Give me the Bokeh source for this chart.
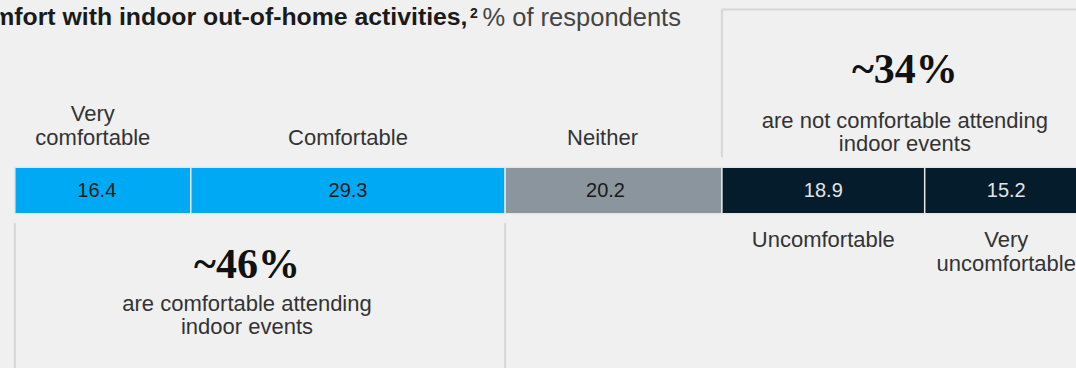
from bokeh.plotting import figure
from bokeh.models import Range1d
from bokeh.embed import file_html
from bokeh.resources import INLINE
from bokeh.core.properties import value

# ---------------- data ----------------
categories = ["Very comfortable", "Comfortable", "Neither", "Uncomfortable", "Very uncomfortable"]
values = [16.4, 29.3, 20.2, 18.9, 15.2]
label_lines = [["Very", "comfortable"], ["Comfortable"], ["Neither"], ["Uncomfortable"], ["Very", "uncomfortable"]]
label_side = ["above", "above", "above", "below", "below"]
group_pcts = ["~46%", "~34%"]
group_texts = [["are comfortable attending", "indoor events"],
               ["are not comfortable attending", "indoor events"]]
group_members = [[0, 1], [3, 4]]
group_side = ["below", "above"]
title_bold = "Comfort with indoor out-of-home activities,"
title_sup = "2"
title_rest = "% of respondents"

# ---------------- styles ----------------
seg_colors = ["#00a9f4", "#00a9f4", "#8b959e", "#051c2c", "#051c2c"]
val_colors = ["#1a1a1a", "#1a1a1a", "#1a1a1a", "#e4e4e4", "#e4e4e4"]
BG = "#f0f0f0"
LINE = "#d6d6d6"
SANS = "Liberation Sans"
SERIF = "Liberation Serif"
# small horizontal nudges (px) of some texts, as laid out in the original
label_dx_px = {"Very comfortable": -10, "Neither": -11}
value_dx_px = {"Very comfortable": -6, "Neither": -8}
group_dx_px = [-13, 0]

W, H = 1076, 368
SCALE = 10.73          # px per percentage point
X0 = 14.3              # px position of 0 %


def px(fx):
    return (fx - X0) / SCALE


p = figure(width=W, height=H, x_range=Range1d(px(0), px(W)), y_range=Range1d(H, 0),
           x_axis_type=None, y_axis_type=None, toolbar_location=None,
           output_backend="svg", min_border=0)
p.background_fill_color = BG
p.border_fill_color = BG
p.outline_line_color = None
p.xgrid.visible = False
p.ygrid.visible = False

lefts, rights = [], []
acc = 0.0
for v in values:
    lefts.append(acc)
    acc += v
    rights.append(acc)
centers = [(l + r) / 2 for l, r in zip(lefts, rights)]

BAR_TOP, BAR_BOT = 166.7, 213.3
p.quad(left=lefts, right=rights, top=BAR_TOP, bottom=BAR_BOT,
       fill_color=seg_colors, line_color="#e6e6e6", line_width=1.5)

p.text(x=[c + value_dx_px.get(cat, 0) / SCALE for c, cat in zip(centers, categories)],
       y=[189.5] * len(values),
       text=[f"{v:.1f}" for v in values], text_align="center", text_baseline="middle",
       text_font=value(SANS), text_font_size="20px", text_color=val_colors)

# category labels (y = vertical middle of each line)
lx, ly, lt = [], [], []
LINE_H = 24
for c, cat, lines, side in zip(centers, categories, label_lines, label_side):
    n = len(lines)
    for k, t in enumerate(lines):
        lx.append(c + label_dx_px.get(cat, 0) / SCALE)
        lt.append(t)
        if side == "above":
            ly.append(137.0 - LINE_H * (n - 1 - k))
        else:
            ly.append(239.0 + LINE_H * k)
p.text(x=lx, y=ly, text=lt, text_align="center", text_baseline="middle",
       text_font=value(SANS), text_font_size="22px", text_color="#333333")

# group brackets and texts
for gi, (pct, lines, mem, side) in enumerate(zip(group_pcts, group_texts, group_members, group_side)):
    gl, gr = lefts[mem[0]], rights[mem[-1]]
    gc = (gl + gr) / 2 + group_dx_px[gi] / SCALE
    if side == "below":
        p.segment(x0=[gl, gr], y0=[222.7, 222.7], x1=[gl, gr], y1=[H + 10, H + 10],
                  line_color=LINE, line_width=2)
        pct_y, line_y = 263.0, [302.5, 326.0]
    else:
        p.segment(x0=[gl, gl], y0=[156.7, 9.0], x1=[gl, gr], y1=[9.0, 9.0],
                  line_color=LINE, line_width=2)
        pct_y, line_y = 68.0, [120.0, 143.0]
    p.text(x=[gc], y=[pct_y], text=[pct], text_align="center", text_baseline="middle",
           text_font=value(SERIF), text_font_style="bold", text_font_size="42px",
           text_color="#111111")
    p.text(x=[gc] * len(lines), y=line_y, text=lines, text_align="center",
           text_baseline="middle", text_font=value(SANS), text_font_size="22px",
           text_color="#333333")

# title (cropped at the left edge as in the reference)
p.text(x=[px(467)], y=[15.5], text=[title_bold], text_align="right", text_baseline="middle",
       text_font=value(SANS), text_font_style="bold", text_font_size="24.8px",
       text_color="#1a1a1a")
p.text(x=[px(469.5)], y=[12.5], text=[title_sup], text_align="left", text_baseline="middle",
       text_font=value(SANS), text_font_style="bold", text_font_size="14px",
       text_color="#1a1a1a")
p.text(x=[px(482)], y=[16.0], text=[title_rest], text_align="left", text_baseline="middle",
       text_font=value(SANS), text_font_size="25.5px", text_color="#444444")

html = file_html(p, INLINE, title="Comfort with indoor out-of-home activities")
html = html.replace("<head>", "<head><style>body{background:#f0f0f0;}</style>", 1)
open("out.html", "w").write(html)
